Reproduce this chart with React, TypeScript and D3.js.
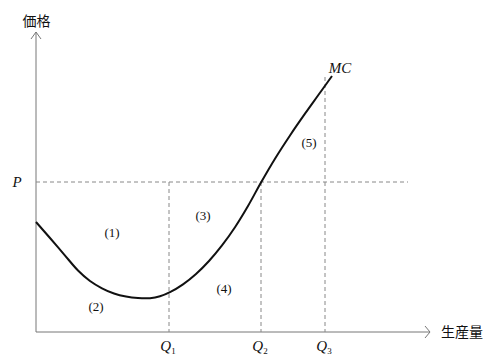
import React from "react";
import * as d3 from "d3";

const W = 501;
const H = 363;

// data units: quantity 0..100, price 0..100
const curveQ = [0, 3.5, 7, 10.5, 13.5, 16.5, 19.5, 22.5, 25.5, 28.5, 31, 33.5, 36.75, 40, 43.25, 46.5, 49.75, 53, 56.25, 59.75, 63.5, 67.25, 70.5, 74];
const curveP = [36.67, 31.33, 25.9, 20.5, 17, 14.57, 12.83, 11.8, 11.3, 11.27, 11.9, 13.27, 15.87, 19.33, 23.67, 28.87, 34.93, 42, 49.83, 57.77, 65.52, 72.77, 78.83, 85.33];

const priceP = 50;
const qLabels = ["1", "2", "3"];
const qValues = [33.25, 56.25, 72.25];
const qTops = [50, 50, 85];

const regionLabels = ["(1)", "(2)", "(3)", "(4)", "(5)"];
const regionQ = [19, 15, 41.75, 47, 68.25];
const regionP = [33, 8.3, 38.7, 14.3, 63];

export default function App() {
  const x = d3.scaleLinear().domain([0, 100]).range([36, 436]);
  const y = d3.scaleLinear().domain([0, 100]).range([332, 32]);

  const pts: [number, number][] = curveQ.map((q, i) => [x(q), y(curveP[i])]);
  const line = d3.line().curve(d3.curveCatmullRom.alpha(0.5))(pts) || "";

  const axisColor = "#777";
  const dashColor = "#888";
  const serif = "'Liberation Serif', 'DejaVu Serif', serif";
  const cjk = "'Noto Sans CJK JP', sans-serif";

  return (
    <svg width={W} height={H} style={{ position: "absolute", left: 0, top: 0, background: "#fff" }}>
      {/* axes */}
      <line x1={x(0)} y1={y(0)} x2={x(98.5)} y2={y(0)} stroke={axisColor} strokeWidth={1} />
      <line x1={x(0)} y1={y(0)} x2={x(0)} y2={y(100)} stroke={axisColor} strokeWidth={1} />
      <polyline
        points={`${x(98.5) - 5},${y(0) - 6} ${x(98.5)},${y(0)} ${x(98.5) - 5},${y(0) + 6}`}
        fill="none"
        stroke={axisColor}
        strokeWidth={1}
      />
      <polyline
        points={`${x(0) - 5},${y(100) + 7} ${x(0)},${y(100)} ${x(0) + 5},${y(100) + 7}`}
        fill="none"
        stroke={axisColor}
        strokeWidth={1}
      />
      <text x={x(0) + 0.5} y={26} textAnchor="middle" fontFamily={cjk} fontSize={14} fill="#111">
        価格
      </text>
      <text x={441} y={y(0) + 5} fontFamily={cjk} fontSize={14} fill="#111">
        生産量
      </text>

      {/* price line */}
      <line
        x1={x(0)}
        y1={y(priceP)}
        x2={x(93)}
        y2={y(priceP)}
        stroke={dashColor}
        strokeWidth={1}
        strokeDasharray="4,3"
      />
      <text x={17} y={y(priceP) + 5} fontFamily={serif} fontStyle="italic" fontSize={15} fill="#111" textAnchor="middle">
        P
      </text>

      {/* quantity lines */}
      {qValues.map((q, i) => (
        <g key={i}>
          <line
            x1={x(q)}
            y1={y(qTops[i])}
            x2={x(q)}
            y2={y(0)}
            stroke={dashColor}
            strokeWidth={1}
            strokeDasharray="4,3"
          />
          <text x={x(q) - 1} y={351} fontFamily={serif} fontSize={15} fill="#111" textAnchor="middle">
            <tspan fontStyle="italic">Q</tspan>
            <tspan fontSize={9} dy={3}>
              {qLabels[i]}
            </tspan>
          </text>
        </g>
      ))}

      {/* MC curve */}
      <path d={line} fill="none" stroke="#111" strokeWidth={2} />
      <text x={340} y={73} fontFamily={serif} fontStyle="italic" fontSize={15} fill="#111" textAnchor="middle">
        MC
      </text>

      {regionLabels.map((t, i) => (
        <text
          key={t}
          x={x(regionQ[i])}
          y={y(regionP[i]) + 4}
          fontFamily={serif}
          fontSize={13}
          fill="#111"
          textAnchor="middle"
        >
          {t}
        </text>
      ))}
    </svg>
  );
}
